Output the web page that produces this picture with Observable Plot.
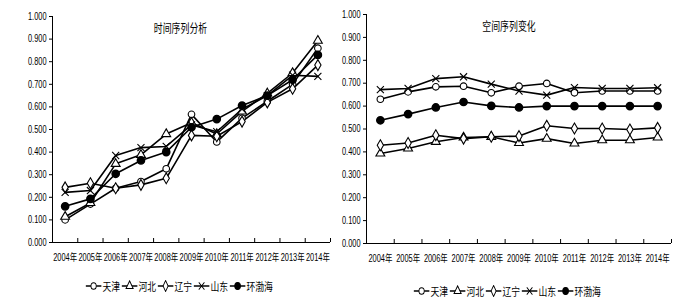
<!DOCTYPE html>
<html><head><meta charset="utf-8">
<script src="https://cdn.jsdelivr.net/npm/d3@7"></script>
<script src="https://cdn.jsdelivr.net/npm/@observablehq/plot@0.6"></script>
<style>
body{margin:0;background:#fff;}
#wrap{position:relative;width:700px;height:306px;font-family:"Liberation Sans","Noto Sans CJK SC",sans-serif;}
.panel{position:absolute;top:0;}
.legend{position:absolute;display:flex;align-items:center;font-size:11px;color:#000;white-space:nowrap;transform:translateX(-50%) scaleX(0.8);font-family:"Noto Sans CJK SC",sans-serif;}
.legend .item{display:flex;align-items:center;margin-right:2px;}
.legend svg{display:block;margin-right:1px;}
</style>
</head><body>
<div id="wrap"></div>
<script>
const years = ["2004年","2005年","2006年","2007年","2008年","2009年","2010年","2011年","2012年","2013年","2014年"];
const seriesNames = ["天津","河北","辽宁","山东","环渤海"];
const seriesSymbols = ["circle","triangle","diamond","times","circle"];
const yTicks = [0,0.1,0.2,0.3,0.4,0.5,0.6,0.7,0.8,0.9,1.0];

// 时间序列分析
const timeTianjin = [0.100,0.170,0.240,0.270,0.326,0.567,0.445,0.550,0.625,0.700,0.860];
const timeHebei   = [0.114,0.175,0.348,0.388,0.480,0.530,0.480,0.580,0.660,0.750,0.893];
const timeLiaoning= [0.244,0.262,0.240,0.255,0.284,0.474,0.470,0.535,0.620,0.680,0.785];
const timeShandong= [0.222,0.230,0.385,0.420,0.425,0.520,0.490,0.590,0.650,0.740,0.735];
const timeBohai   = [0.160,0.193,0.304,0.363,0.400,0.510,0.546,0.606,0.650,0.720,0.830];

// 空间序列变化
const spaceTianjin = [0.630,0.662,0.684,0.687,0.658,0.687,0.699,0.658,0.666,0.666,0.666];
const spaceHebei   = [0.393,0.415,0.444,0.463,0.466,0.439,0.458,0.437,0.451,0.451,0.463];
const spaceLiaoning= [0.429,0.439,0.473,0.458,0.466,0.469,0.514,0.502,0.502,0.498,0.505];
const spaceShandong= [0.672,0.677,0.720,0.728,0.696,0.666,0.648,0.681,0.677,0.677,0.680];
const spaceBohai   = [0.538,0.565,0.594,0.618,0.601,0.594,0.600,0.600,0.600,0.600,0.600];

const titles = ["时间序列分析","空间序列变化"];

function rowsFrom(arrs){
  const rows=[];
  arrs.forEach((a,si)=>a.forEach((v,i)=>rows.push({s:seriesNames[si],i,v})));
  return rows;
}
const timeRows = rowsFrom([timeTianjin,timeHebei,timeLiaoning,timeShandong,timeBohai]);
const spaceRows = rowsFrom([spaceTianjin,spaceHebei,spaceLiaoning,spaceShandong,spaceBohai]);

const fontStack = '"Liberation Sans","Noto Sans CJK SC",sans-serif';
const idx = years.map((d,i)=>i);
const bounds = d3.range(years.length+1).map(i=>i-0.5);

function makeChart(rows, title, o){
  return Plot.plot({
    width:o.width, height:270,
    marginLeft:o.ml, marginRight:o.mr, marginTop:o.mt, marginBottom:o.mb,
    style:{fontFamily:fontStack,fontSize:"10px",color:"#000",background:"transparent"},
    x:{type:"linear",domain:[-0.5,years.length-0.5]},
    y:{domain:[0,1]},
    symbol:{domain:seriesNames,range:seriesSymbols},
    marks:[
      Plot.axisY({ticks:yTicks,tickFormat:d3.format(".3f"),tickSize:3,tickPadding:3,label:null,fontSize:10}),
      Plot.axisX({ticks:idx,tickFormat:i=>years[i],tickSize:0,tickPadding:11,label:null,fontSize:10}),
      Plot.axisX({ticks:bounds,tickFormat:()=>"",tickSize:-4,label:null}),
      Plot.ruleX([-0.5],{stroke:"#000",strokeWidth:1}),
      Plot.ruleY([0],{stroke:"#000",strokeWidth:1}),
      Plot.text([title],{frameAnchor:"top",dx:o.tdx,dy:8,fontSize:12,fontFamily:'"Noto Sans CJK SC",sans-serif'}),
      Plot.line(rows,{x:"i",y:"v",z:"s",stroke:"#000",strokeWidth:1.6}),
      Plot.dot(rows,{filter:d=>d.s!=="环渤海",x:"i",y:"v",symbol:"s",r:3.3,fill:"#fff",stroke:"#000",strokeWidth:1.1}),
      Plot.dot(rows,{filter:d=>d.s==="环渤海",x:"i",y:"v",symbol:"s",r:3.6,fill:"#000",stroke:"#000"})
    ]
  });
}

function condense(svg, f){
  svg.querySelectorAll("text").forEach(t=>{
    if(!t.textContent) return;
    const w=t.getComputedTextLength();
    if(w>0){ t.setAttribute("textLength",(w*f).toFixed(1)); t.setAttribute("lengthAdjust","spacingAndGlyphs"); }
  });
}

const wrap = document.getElementById("wrap");
const left = makeChart(timeRows, titles[0], {width:340,ml:52,mr:10,mt:16,mb:28,tdx:-11});
left.classList.add("panel"); left.style.left="0px";
const right = makeChart(spaceRows, titles[1], {width:360,ml:26,mr:29,mt:14,mb:27,tdx:-10});
right.classList.add("panel"); right.style.left="340px";
wrap.appendChild(left); wrap.appendChild(right);
condense(left, 0.74); condense(right, 0.74);

function legend(cx, cy){
  const div=document.createElement("div");
  div.className="legend";
  div.style.left=cx+"px"; div.style.top=(cy-8)+"px";
  seriesNames.forEach((name,k)=>{
    const item=document.createElement("span"); item.className="item";
    const svg=d3.create("svg").attr("width",20).attr("height",12);
    svg.append("line").attr("x1",0).attr("x2",20).attr("y1",6).attr("y2",6).attr("stroke","#000").attr("stroke-width",1.6);
    const symMap={circle:d3.symbolCircle,triangle:d3.symbolTriangle,diamond:d3.symbolDiamond,times:d3.symbolTimes};
    const filled = name==="环渤海";
    svg.append("path").attr("transform","translate(10,6)")
      .attr("d",d3.symbol(symMap[seriesSymbols[k]], filled?40:34)())
      .attr("fill",filled?"#000":"#fff").attr("stroke","#000").attr("stroke-width",1.1);
    item.appendChild(svg.node());
    const t=document.createElement("span"); t.textContent=name;
    item.appendChild(t);
    div.appendChild(item);
  });
  wrap.appendChild(div);
}
legend(180, 286);
legend(508, 291);
</script>
</body></html>
